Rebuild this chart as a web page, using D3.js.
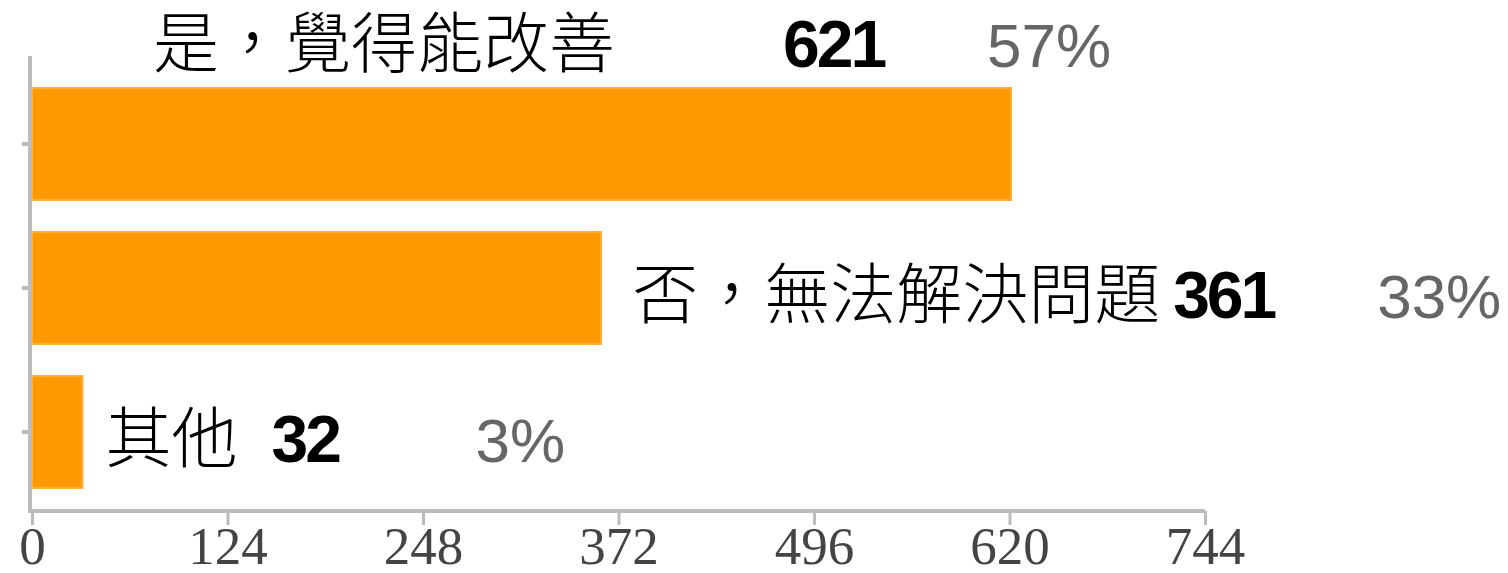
<!DOCTYPE html>
<html>
<head>
<meta charset="utf-8">
<script src="https://cdn.jsdelivr.net/npm/d3@7"></script>
<style>
  body { margin: 0; background: #fff; }
</style>
</head>
<body>
<div id="chart"></div>
<script>
const categories = ['是，覺得能改善', '否，無法解決問題', '其他'];
const counts = [621, 361, 32];
const percents = [57, 33, 3];
const xTicks = [0, 124, 248, 372, 496, 620, 744];

const width = 1508, height = 573;
const axisColor = '#bbbbbb';

let svg = d3.select('#chart').append('svg')
  .attr('width', width)
  .attr('height', height);

let x = d3.scaleLinear().domain([0, 744]).range([32, 1205]);
let y = d3.scaleBand().domain(categories).range([56, 520]).padding(0.222);

// bars
svg.selectAll('rect.bar')
  .data(categories).enter()
  .append('rect')
  .attr('class', 'bar')
  .attr('x', x(0))
  .attr('y', d => y(d))
  .attr('width', (d, i) => x(counts[i]) - x(0))
  .attr('height', y.bandwidth())
  .attr('fill', '#ff9900')
  .attr('stroke', '#ffb040')
  .attr('stroke-width', 2);

// bottom axis
let xAxis = svg.append('g')
  .attr('transform', 'translate(0,511)')
  .call(d3.axisBottom(x).tickValues(xTicks).tickSize(14).tickSizeOuter(0).tickPadding(1));
xAxis.select('.domain').attr('stroke', axisColor).attr('stroke-width', 4).attr('d', 'M' + (x(0) - 2) + ',0H' + x(744));
xAxis.selectAll('.tick line').attr('stroke', axisColor).attr('stroke-width', 3);
xAxis.selectAll('.tick text')
  .attr('fill', '#444')
  .attr('font-size', 53)
  .attr('font-family', 'Liberation Serif, serif');

// left axis
svg.append('line')
  .attr('x1', 30).attr('x2', 30)
  .attr('y1', 56).attr('y2', 513)
  .attr('stroke', axisColor)
  .attr('stroke-width', 4);
let yAxis = svg.append('g')
  .attr('transform', 'translate(30,0)')
  .call(d3.axisLeft(y).tickSize(8).tickFormat(''));
yAxis.select('.domain').remove();
yAxis.selectAll('.tick line').attr('stroke', axisColor).attr('stroke-width', 4);

// value labels: category, count, percent
let numGap = [168, 13, 34];
let pctStep = 204;
categories.forEach(function(c, i) {
  let g = svg.append('g');
  let label = g.append('text')
    .text(c)
    .attr('font-size', 66)
    .attr('font-family', 'Noto Sans CJK TC, sans-serif')
    .attr('font-weight', 300)
    .attr('fill', '#000');
  let num = g.append('text')
    .text(counts[i])
    .attr('font-size', 66)
    .attr('font-weight', 'bold')
    .attr('letter-spacing', -3)
    .attr('font-family', 'Liberation Sans, Arial, sans-serif')
    .attr('fill', '#000');
  let pct = g.append('text')
    .text(percents[i] + '%')
    .attr('font-size', 62)
    .attr('font-family', 'Liberation Sans, Arial, sans-serif')
    .attr('fill', '#666');

  let lw = label.node().getComputedTextLength();
  let nw = num.node().getComputedTextLength();
  let pw = pct.node().getComputedTextLength();
  let end = x(counts[i]);
  let labelX, baseY;
  if (end + 30 + lw + numGap[i] + nw > width) {
    // no room on the right: put it above the bar
    let pctX = end + 100 - pw;
    labelX = pctX - pctStep - numGap[i] - lw;
    baseY = y(c) - 21;
  } else {
    labelX = end + (i === 1 ? 31 : 23);
    baseY = y(c) + y.bandwidth() / 2 + 30;
  }
  let numX = labelX + lw + numGap[i];
  label.attr('x', labelX).attr('y', baseY);
  num.attr('x', numX).attr('y', baseY);
  pct.attr('x', numX + pctStep).attr('y', baseY);
});
</script>
</body>
</html>
